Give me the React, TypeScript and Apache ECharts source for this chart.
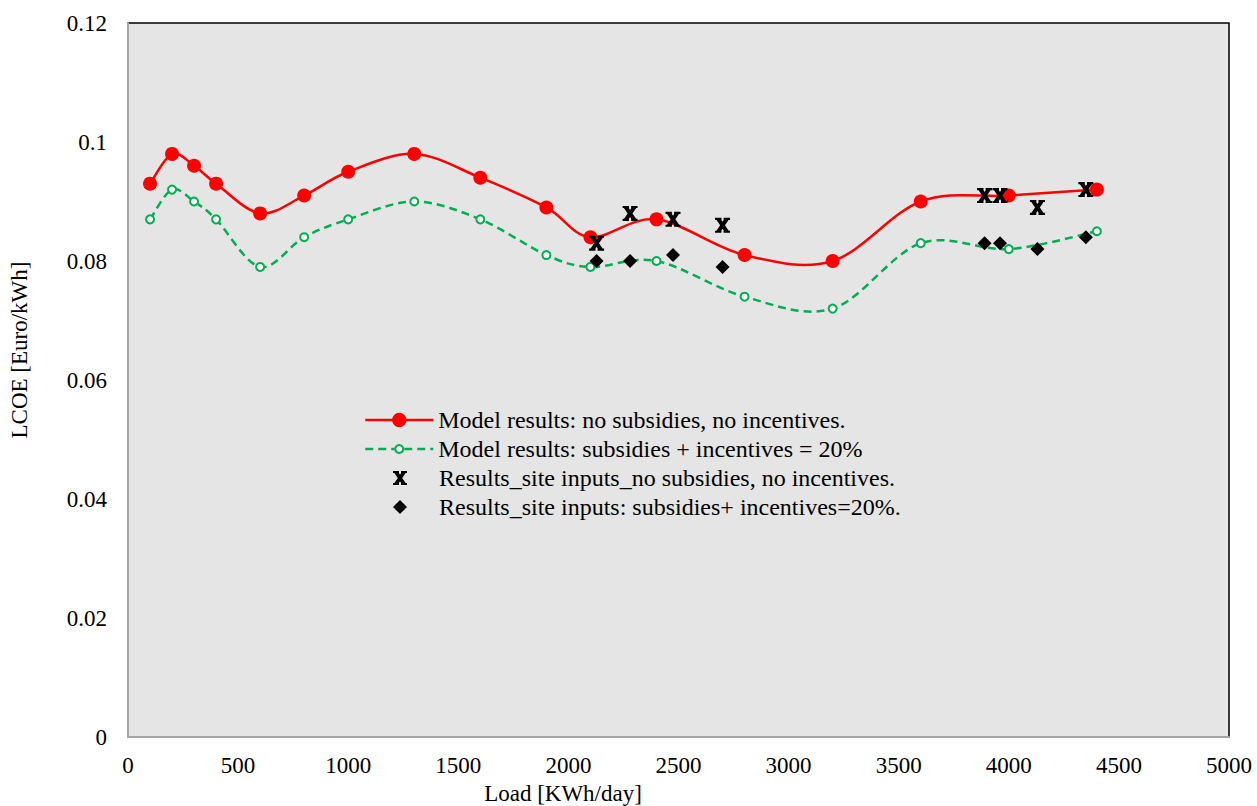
import React, { useEffect, useRef } from "react";
import * as echarts from "echarts";

const loads = [100, 200, 300, 400, 600, 800, 1000, 1300, 1600, 1900, 2100, 2400, 2800, 3200, 3600, 4000, 4400];
const modelNoSub = [0.093, 0.098, 0.096, 0.093, 0.088, 0.091, 0.095, 0.098, 0.094, 0.089, 0.084, 0.087, 0.081, 0.080, 0.090, 0.091, 0.092];
const modelSub = [0.087, 0.092, 0.090, 0.087, 0.079, 0.084, 0.087, 0.090, 0.087, 0.081, 0.079, 0.080, 0.074, 0.072, 0.083, 0.082, 0.085];
const siteLoads = [2128, 2280, 2475, 2700, 3890, 3960, 4130, 4350];
const siteNoSub = [0.083, 0.088, 0.087, 0.086, 0.091, 0.091, 0.089, 0.092];
const siteSub = [0.080, 0.080, 0.081, 0.079, 0.083, 0.083, 0.082, 0.084];

const names = [
  "Model results: no subsidies, no incentives.",
  "Model results: subsidies + incentives = 20%",
  "Results_site inputs_no subsidies, no incentives.",
  "Results_site inputs: subsidies+ incentives=20%.",
];

const RED = "#ff0000";
const GREEN = "#00b050";
const FONT = '"Liberation Serif", "Times New Roman", serif';
const CROSS =
  "path://M0,0 L4.5,0 L14,14 L9.5,14 Z M9.5,0 L14,0 L4.5,14 L0,14 Z M0,0 L6,0 L6,2 L0,2 Z M8,0 L14,0 L14,2 L8,2 Z M0,12 L6,12 L6,14 L0,14 Z M8,12 L14,12 L14,14 L8,14 Z";
const DIAMOND = "path://M7,0 L14,7 L7,14 L0,7 Z";

// Catmull-Rom style smoothing (as in spreadsheet "smoothed line") in pixel space
function smoothPath(pts: number[][]) {
  let d = `M${pts[0][0]},${pts[0][1]}`;
  for (let i = 0; i < pts.length - 1; i++) {
    const p0 = pts[Math.max(0, i - 1)];
    const p1 = pts[i];
    const p2 = pts[i + 1];
    const p3 = pts[Math.min(pts.length - 1, i + 2)];
    const c1x = p1[0] + (p2[0] - p0[0]) / 6;
    const c1y = p1[1] + (p2[1] - p0[1]) / 6;
    const c2x = p2[0] - (p3[0] - p1[0]) / 6;
    const c2y = p2[1] - (p3[1] - p1[1]) / 6;
    d += ` C${c1x},${c1y} ${c2x},${c2y} ${p2[0]},${p2[1]}`;
  }
  return d;
}

export default function App() {
  const ref = useRef<HTMLDivElement>(null);
  useEffect(() => {
    if (!ref.current) return;
    const chart = echarts.init(ref.current, null, { renderer: "svg" });
    const pair = (xs: number[], ys: number[]) => xs.map((x, i) => [x, ys[i]]);
    const legendText = { fontFamily: FONT, fontSize: 24, color: "#000", lineHeight: 26 };
    const curve = (ys: number[], stroke: string, dash: number[] | null, z: number) => ({
      type: "custom",
      silent: true,
      z,
      data: [[loads[0], ys[0]]],
      renderItem: (_params: any, api: any) => {
        const pts = loads.map((x, i) => api.coord([x, ys[i]]));
        return {
          type: "path",
          shape: { pathData: smoothPath(pts) },
          style: {
            fill: "none",
            stroke,
            lineWidth: 2.5,
            lineDash: dash || undefined,
          },
        };
      },
    });
    chart.setOption({
      animation: false,
      backgroundColor: "#fff",
      grid: {
        left: 128,
        top: 23,
        right: 28,
        bottom: 69,
        show: true,
        backgroundColor: "#e5e5e5",
        borderColor: "#000",
        borderWidth: 1.5,
      },
      xAxis: {
        type: "value",
        min: 0,
        max: 5000,
        interval: 500,
        axisLine: { show: true, lineStyle: { color: "#a6a6a6", width: 2 } },
        axisTick: { show: false },
        splitLine: { show: false },
        axisLabel: {
          fontFamily: FONT,
          fontSize: 23,
          color: "#000",
          margin: 17,
          formatter: (v: number) => String(v),
        },
      },
      yAxis: {
        type: "value",
        min: 0,
        max: 0.12,
        interval: 0.02,
        axisLine: { show: true, lineStyle: { color: "#a6a6a6", width: 2 } },
        axisTick: { show: false },
        splitLine: { show: false },
        axisLabel: {
          fontFamily: FONT,
          fontSize: 23,
          color: "#000",
          margin: 21,
          formatter: (v: number) => String(parseFloat(v.toFixed(2))),
        },
      },
      legend: [
        {
          data: [{ name: names[0], lineStyle: { color: RED, width: 2.5, opacity: 1, type: "solid" } }],
          left: 359,
          top: 402,
          orient: "vertical",
          itemWidth: 68,
          itemHeight: 18,
          textStyle: legendText,
        },
        {
          data: [{ name: names[1], lineStyle: { color: GREEN, width: 2.5, opacity: 1, type: [8, 5] } }],
          left: 359,
          top: 431,
          orient: "vertical",
          itemWidth: 68,
          itemHeight: 10,
          textStyle: legendText,
        },
        {
          data: [names[2], names[3]],
          left: 388,
          top: 460,
          orient: "vertical",
          itemWidth: 68,
          itemHeight: 14,
          itemGap: 3,
          symbolKeepAspect: true,
          textStyle: legendText,
        },
      ],
      graphic: [
        {
          type: "text",
          x: 563,
          y: 793,
          style: {
            text: "Load [KWh/day]",
            font: '23px "Liberation Serif"',
            fill: "#000",
            textAlign: "center",
            textVerticalAlign: "middle",
          },
        },
        {
          type: "text",
          x: 19,
          y: 350,
          rotation: Math.PI / 2,
          style: {
            text: "LCOE [Euro/kWh]",
            font: '23px "Liberation Serif"',
            fill: "#000",
            textAlign: "center",
            textVerticalAlign: "middle",
          },
        },
      ],
      series: [
        curve(modelNoSub, RED, null, 2),
        curve(modelSub, GREEN, [8, 5], 1),
        {
          name: names[0],
          type: "line",
          data: pair(loads, modelNoSub),
          symbol: "circle",
          symbolSize: 14,
          itemStyle: { color: RED },
          lineStyle: { color: RED, width: 2.5, opacity: 0 },
          z: 4,
        },
        {
          name: names[1],
          type: "line",
          data: pair(loads, modelSub),
          symbol: "emptyCircle",
          symbolSize: 8,
          itemStyle: { color: GREEN, borderWidth: 2 },
          lineStyle: { color: GREEN, width: 2.5, type: [8, 5], opacity: 0 },
          z: 3,
        },
        {
          name: names[2],
          type: "scatter",
          data: pair(siteLoads, siteNoSub),
          symbol: CROSS,
          symbolSize: 15,
          symbolKeepAspect: true,
          itemStyle: { color: "#000", opacity: 1 },
          z: 5,
        },
        {
          name: names[3],
          type: "scatter",
          data: pair(siteLoads, siteSub),
          symbol: DIAMOND,
          symbolSize: 14,
          symbolKeepAspect: true,
          itemStyle: { color: "#000", opacity: 1 },
          z: 5,
        },
      ],
    });
    return () => chart.dispose();
  }, []);
  return (
    <div
      ref={ref}
      style={{ position: "fixed", left: 0, top: 0, width: 1257, height: 806 }}
    />
  );
}
